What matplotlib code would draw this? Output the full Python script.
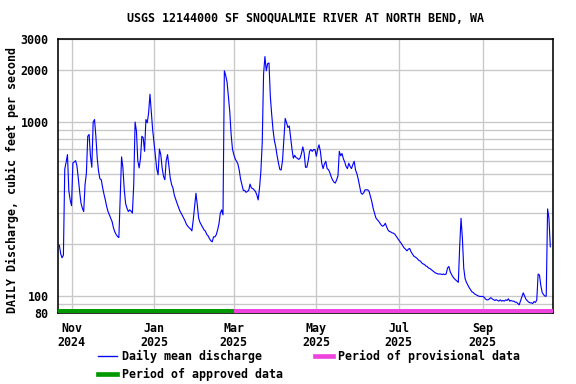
import matplotlib
matplotlib.use("Agg")
import matplotlib.pyplot as plt
import matplotlib.dates as mdates
from matplotlib.ticker import FixedLocator, FixedFormatter, NullFormatter
from matplotlib.lines import Line2D
import numpy as np

title = "USGS 12144000 SF SNOQUALMIE RIVER AT NORTH BEND, WA"
ylabel = "DAILY Discharge, cubic feet per second"
first_day = "2024-10-23"
approved_end = "2025-03-01"
x_start, x_end = "2024-10-22", "2025-10-23"

# daily mean discharge, cfs
flow_oct_dec = [196, 175, 166, 172, 537, 587, 650, 403, 357,
                331, 582, 590, 600, 560, 476, 399, 342, 320, 306,
                437, 509, 829, 849, 636, 550, 1000, 1034, 829, 620,
                521, 472, 466, 420, 385, 357, 327, 306, 293, 280,
                268, 247, 234, 226, 220, 217, 366, 631, 545, 408,
                340, 320, 306, 313, 308, 300, 437, 1000, 887, 600,
                545, 620, 829, 812, 679, 1034, 991, 1130, 1445, 1130,
                900]
flow_jan_mar = [760, 636, 540, 498, 700, 650, 545, 488, 466,
                600, 650, 560, 476, 437, 418, 380, 360, 342, 325,
                310, 300, 290, 280, 270, 258, 252, 247, 243, 237,
                274, 327, 390, 334, 280, 265, 256, 248, 240, 236,
                226, 222, 214, 208, 205, 219, 219, 225, 240, 260,
                299, 313, 293, 1970, 1850, 1700, 1400, 1150, 850, 700,
                650, 615, 595, 575, 530, 470, 437, 405, 405, 395,
                399, 405, 440, 418, 415, 408, 399, 382, 357, 418,
                521, 759, 1888, 2377, 1970, 2165, 2185, 1400, 1107, 900,
                783]
flow_apr_jun = [720, 640, 582, 535, 530, 600, 800, 1049, 991,
                930, 950, 812, 700, 620, 644, 625, 620, 610, 620,
                660, 720, 665, 550, 550, 600, 679, 695, 679, 695,
                695, 636, 700, 740, 679, 580, 540, 575, 595, 540,
                533, 512, 485, 465, 452, 446, 465, 490, 679, 640,
                660, 615, 590, 556, 540, 580, 556, 540, 570, 595,
                530, 505, 470, 430, 392, 385, 392, 408, 408, 408,
                400, 375, 350, 320, 300, 282, 275, 270, 263, 256,
                252, 255, 262, 250, 240, 235, 234, 231, 230, 227,
                221, 215]
flow_jul_oct = [210, 205, 200, 194, 189, 186, 182, 186,
                188, 180, 175, 170, 168, 166, 163, 160, 159, 155,
                153, 152, 149, 148, 145, 144, 142, 140, 138, 136,
                135, 134, 134, 134, 133, 134, 133, 134, 145, 148,
                138, 133, 129, 126, 124, 122, 120, 192, 280, 215,
                145, 126, 120, 116, 112, 109, 106, 105, 103, 102,
                101, 100, 99.6, 99.6, 99.6, 98.7, 96.5, 95.2, 95.2, 96.5,
                98, 96.5, 95.5, 94.4, 95.5, 94.4, 93.6, 95.2, 93.6, 94.4,
                93.6, 95.2, 94.4, 96.5, 93.6, 94.4, 93.6, 93.6, 92.3, 92.3,
                90.7, 89.1, 94, 99, 104.5, 100, 96, 94, 92.5, 91.5,
                91.5, 90.7, 93, 92, 95, 134, 132, 115, 105, 102,
                100, 100, 317, 280, 192]

y_major = [80, 100, 1000, 2000, 3000]
y_minor = [90, 200, 300, 400, 500, 600, 700, 800, 900]

flow = np.array(flow_oct_dec + flow_jan_mar + flow_apr_jun + flow_jul_oct)
dates = np.datetime64(first_day) + np.arange(len(flow))

plt.rcParams['font.family'] = 'DejaVu Sans Mono'
plt.rcParams['font.weight'] = 'bold'
plt.rcParams['font.size'] = 8.7

fig = plt.figure(figsize=(6, 4), dpi=96)
ax = fig.add_axes([58/576, 1-313/384, 495/576, 274/384])

ax.plot(dates, flow, color='#0000ff', lw=0.85, zorder=3)

ax.set_yscale('log')
ax.set_ylim(80, 3000)
ax.set_xlim(np.datetime64(x_start), np.datetime64(x_end))

ax.yaxis.set_major_locator(FixedLocator(y_major))
ax.yaxis.set_major_formatter(FixedFormatter([str(v) for v in y_major]))
ax.yaxis.set_minor_locator(FixedLocator(y_minor))
ax.yaxis.set_minor_formatter(NullFormatter())

ax.xaxis.set_major_locator(mdates.MonthLocator(bymonth=[1, 3, 5, 7, 9, 11]))
ax.xaxis.set_major_formatter(mdates.DateFormatter('%b\n%Y'))
for lab in ax.get_xticklabels():
    lab.set_linespacing(1.1)

ax.tick_params(which='both', length=0)
ax.tick_params(axis='x', pad=7)
ax.tick_params(axis='y', pad=7)
ax.grid(which='both', color='#c8c8c8', lw=1)
ax.set_axisbelow(True)
for s in ax.spines.values():
    s.set_linewidth(1.2)

# approved / provisional period bars along the bottom
tr = ax.get_xaxis_transform()
ax.plot([np.datetime64(x_start), np.datetime64(approved_end)], [0.008, 0.008],
        transform=tr, color='#009900', lw=3, solid_capstyle='butt', zorder=4)
ax.plot([np.datetime64(approved_end), np.datetime64(x_end)], [0.008, 0.008],
        transform=tr, color='#ee44dd', lw=3, solid_capstyle='butt', zorder=4)

fig.text(305.5/576, 1-19/384, title, ha='center', va='center')
fig.text(12/576, 1-180/384, ylabel, rotation=90, ha='center', va='center')

handles = [Line2D([], [], color='#0000ff', lw=1),
           Line2D([], [], color='#009900', lw=3.5),
           Line2D([], [], color='#ee44dd', lw=3.5)]
labels = ["Daily mean discharge", "Period of approved data",
          "Period of provisional data"]
fig.legend(handles, labels, ncol=2, loc='upper left',
           bbox_to_anchor=(98/576, 1-350/384), frameon=False,
           borderpad=0, borderaxespad=0, handlelength=1.6,
           handletextpad=0.45, columnspacing=2.75, labelspacing=0.38)

fig.savefig('out.png', dpi=96)
